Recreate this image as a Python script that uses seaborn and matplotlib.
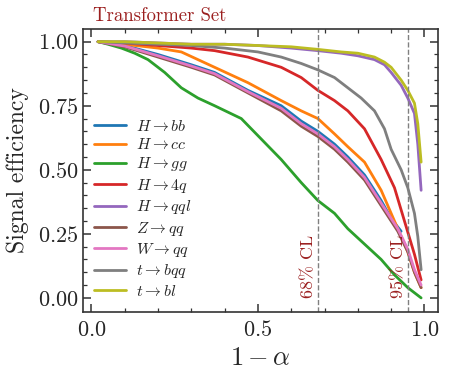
import pandas as pd
import seaborn as sns
import matplotlib.pyplot as plt

# curves (x = 1 - alpha, y = signal efficiency)
labels = [r'$H\rightarrow bb$', r'$H\rightarrow cc$', r'$H\rightarrow gg$', r'$H\rightarrow 4q$',
          r'$H\rightarrow qql$', r'$Z\rightarrow qq$', r'$W\rightarrow qq$', r'$t\rightarrow bqq$',
          r'$t\rightarrow bl$']

x_hbb = [0.02, 0.1, 0.2, 0.3, 0.37, 0.47, 0.57, 0.63, 0.68, 0.73, 0.77, 0.82, 0.87, 0.9, 0.93]
y_hbb = [1.0, 0.985, 0.95, 0.91, 0.88, 0.81, 0.75, 0.69, 0.65, 0.60, 0.55, 0.48, 0.38, 0.31, 0.26]

x_hcc = [0.02, 0.1, 0.2, 0.27, 0.37, 0.47, 0.57, 0.63, 0.68, 0.73, 0.77, 0.82, 0.87, 0.91, 0.95, 0.97, 0.99]
y_hcc = [1.0, 0.99, 0.975, 0.96, 0.90, 0.84, 0.77, 0.73, 0.70, 0.64, 0.59, 0.53, 0.42, 0.30, 0.18, 0.10, 0.04]

x_hgg = [0.02, 0.05, 0.09, 0.13, 0.17, 0.22, 0.27, 0.32, 0.37, 0.45, 0.51, 0.57, 0.63, 0.68,
         0.73, 0.77, 0.82, 0.87, 0.91, 0.95, 0.97, 0.99]
y_hgg = [1.0, 0.99, 0.975, 0.955, 0.93, 0.88, 0.82, 0.78, 0.75, 0.70, 0.62, 0.54, 0.45, 0.38,
         0.33, 0.27, 0.21, 0.15, 0.09, 0.04, 0.02, 0.0]

x_h4q = [0.02, 0.1, 0.2, 0.3, 0.37, 0.47, 0.57, 0.63, 0.68, 0.73, 0.77, 0.82, 0.87, 0.91, 0.94, 0.97, 0.99]
y_h4q = [1.0, 0.995, 0.985, 0.975, 0.965, 0.94, 0.90, 0.86, 0.81, 0.77, 0.73, 0.66, 0.54, 0.43, 0.30, 0.17, 0.07]

x_hqql = [0.02, 0.1, 0.2, 0.3, 0.4, 0.5, 0.6, 0.68, 0.75, 0.8, 0.85, 0.88, 0.9, 0.93, 0.95, 0.97, 0.98, 0.99]
y_hqql = [1.0, 1.0, 0.995, 0.99, 0.99, 0.985, 0.975, 0.965, 0.955, 0.945, 0.93, 0.91, 0.88, 0.83, 0.78, 0.72, 0.60, 0.42]

x_zqq = [0.02, 0.1, 0.2, 0.3, 0.37, 0.47, 0.57, 0.63, 0.68, 0.73, 0.77, 0.82, 0.87, 0.9, 0.92, 0.95, 0.97, 0.99]
y_zqq = [1.0, 0.98, 0.94, 0.90, 0.87, 0.80, 0.73, 0.67, 0.63, 0.58, 0.53, 0.46, 0.36, 0.30, 0.26, 0.18, 0.10, 0.04]

x_wqq = [0.02, 0.1, 0.2, 0.3, 0.37, 0.47, 0.57, 0.63, 0.68, 0.73, 0.77, 0.82, 0.87, 0.9, 0.92, 0.95, 0.97, 0.99]
y_wqq = [1.0, 0.983, 0.945, 0.905, 0.875, 0.805, 0.74, 0.68, 0.64, 0.59, 0.54, 0.47, 0.37, 0.31, 0.27, 0.19, 0.11, 0.05]

x_tbqq = [0.02, 0.1, 0.2, 0.3, 0.4, 0.5, 0.57, 0.63, 0.68, 0.73, 0.77, 0.81, 0.85, 0.88, 0.9,
          0.93, 0.95, 0.97, 0.98, 0.99]
y_tbqq = [1.0, 0.995, 0.99, 0.985, 0.975, 0.96, 0.94, 0.915, 0.89, 0.86, 0.82, 0.78, 0.73, 0.66,
          0.58, 0.50, 0.43, 0.33, 0.24, 0.11]

x_tbl = [0.02, 0.1, 0.2, 0.3, 0.4, 0.5, 0.6, 0.68, 0.75, 0.8, 0.85, 0.88, 0.9, 0.93, 0.95, 0.97, 0.98, 0.99]
y_tbl = [1.0, 1.0, 0.995, 0.99, 0.99, 0.985, 0.98, 0.97, 0.96, 0.955, 0.94, 0.92, 0.90, 0.85, 0.81, 0.76, 0.68, 0.53]

xs = [x_hbb, x_hcc, x_hgg, x_h4q, x_hqql, x_zqq, x_wqq, x_tbqq, x_tbl]
ys = [y_hbb, y_hcc, y_hgg, y_h4q, y_hqql, y_zqq, y_wqq, y_tbqq, y_tbl]

cl_levels = [0.68, 0.95]
cl_labels = ['68% CL', '95% CL']

df = pd.concat([pd.DataFrame({'x': x, 'y': y, 'proc': lab}) for x, y, lab in zip(xs, ys, labels)],
               ignore_index=True)

sns.set_style('ticks')
plt.rcParams['font.family'] = 'serif'
plt.rcParams['font.serif'] = ['cmr10']
plt.rcParams['mathtext.fontset'] = 'cm'
plt.rcParams['axes.formatter.use_mathtext'] = True
plt.rcParams['axes.edgecolor'] = '#333333'
plt.rcParams['axes.linewidth'] = 1.2

fig = plt.figure(figsize=(4.49, 3.75), dpi=100)
ax = fig.add_axes([0.185, 0.168, 0.79, 0.755])

sns.lineplot(data=df, x='x', y='y', hue='proc', palette='tab10', sort=False,
             estimator=None, linewidth=2, ax=ax)

dark_red = '#9b1f1f'
for lvl, txt in zip(cl_levels, cl_labels):
    ax.axvline(lvl, color='gray', ls='--', lw=1)
    ax.text(lvl - 0.006, 0.0, txt, rotation=90, ha='right', va='bottom',
            color=dark_red, fontsize=13)

ax.set_xlim(-0.025, 1.04)
ax.set_ylim(-0.055, 1.05)
ax.set_xticks([0.0, 0.5, 1.0])
ax.set_yticks([0.0, 0.25, 0.5, 0.75, 1.0])
ax.set_xticks([i / 10 for i in range(11)], minor=True)
ax.set_yticks([i / 20 for i in range(21)], minor=True)
ax.tick_params(which='both', direction='in', top=True, right=True, labelsize=16,
               color='#333333')
ax.tick_params(which='major', length=6, width=1.1)
ax.tick_params(which='minor', length=3, width=0.9)
ax.tick_params(axis='x', pad=6)
ax.set_xlabel(r'$1-\alpha$', fontsize=19)
ax.set_ylabel('Signal efficiency', fontsize=17, labelpad=6)
ax.text(0.028, 1.015, 'Transformer Set', transform=ax.transAxes, ha='left', va='bottom',
        color=dark_red, fontsize=13.5)

ax.legend(loc='center left', bbox_to_anchor=(0.012, 0.365), frameon=False, fontsize=11.5,
          handlelength=2.0, handletextpad=0.65, labelspacing=0.21, borderaxespad=0.0)

fig.savefig('out.png', dpi=100)
